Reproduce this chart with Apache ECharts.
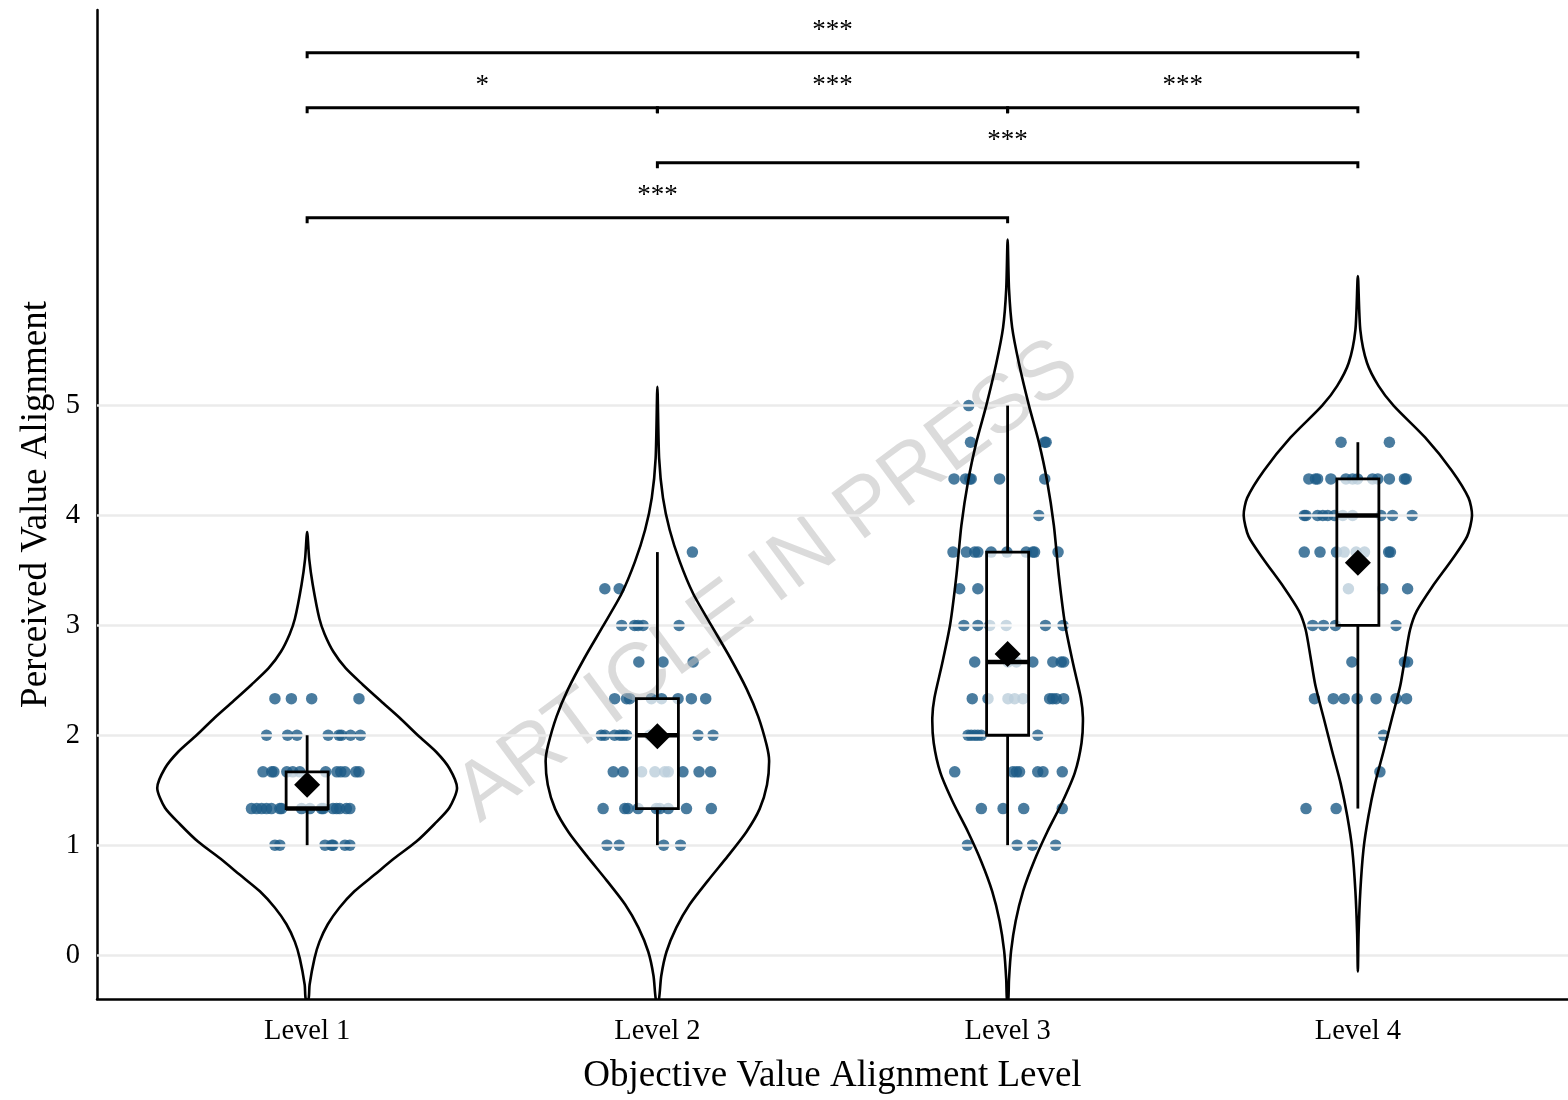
<!DOCTYPE html>
<html><head><meta charset="utf-8">
<script src="https://cdn.jsdelivr.net/npm/echarts@6/dist/echarts.min.js"></script>
<style>html,body{margin:0;padding:0;background:#fff}#c{width:1568px;height:1100px}</style>
</head><body><div id="c"></div>
<script>
// ---------- data ----------
const levels = ['Level 1', 'Level 2', 'Level 3', 'Level 4'];
const yTicks = [0, 1, 2, 3, 4, 5];
const xTicks = [1, 2, 3, 4];

// box-plot statistics per level
const boxMin = [1.0, 1.0, 1.0, 1.333];
const boxQ1  = [1.333, 1.333, 2.0, 3.0];
const boxMed = [1.333, 2.0, 2.667, 4.0];
const boxQ3  = [1.667, 2.333, 3.667, 4.333];
const boxMax = [2.0, 3.667, 5.0, 4.667];
const means  = [1.55, 1.99, 2.74, 3.57];

// violin density profiles (y value, half width in level units)
const violinY1 = [-0.4, -0.27, -0.03, 0.12, 0.28, 0.43, 0.58, 0.73, 0.88, 1.03, 1.19, 1.34, 1.52, 1.7, 1.85, 2.0, 2.16, 2.31, 2.46, 2.61, 2.76, 2.92, 3.06, 3.37, 3.6, 3.85];
const violinW1 = [0.004, 0.007, 0.021, 0.035, 0.059, 0.092, 0.135, 0.192, 0.249, 0.311, 0.363, 0.406, 0.428, 0.406, 0.368, 0.316, 0.264, 0.211, 0.159, 0.11, 0.075, 0.05, 0.035, 0.016, 0.006, 0];
const violinY2 = [-0.41, -0.19, 0.03, 0.25, 0.46, 0.68, 0.9, 1.12, 1.33, 1.55, 1.77, 1.91, 2.17, 2.42, 2.71, 3.0, 3.29, 3.58, 3.87, 4.16, 4.52, 5.17];
const violinW2 = [0.004, 0.011, 0.026, 0.054, 0.092, 0.145, 0.201, 0.254, 0.292, 0.313, 0.319, 0.312, 0.288, 0.255, 0.207, 0.154, 0.102, 0.064, 0.035, 0.016, 0.005, 0];
const violinY3 = [-0.4, -0.22, 0.04, 0.31, 0.58, 0.85, 1.12, 1.39, 1.66, 1.93, 2.16, 2.34, 2.65, 3.01, 3.46, 3.91, 4.31, 4.67, 5.0, 5.39, 5.71, 6.06, 6.51];
const violinW3 = [0.002, 0.004, 0.01, 0.023, 0.044, 0.075, 0.113, 0.156, 0.192, 0.211, 0.215, 0.209, 0.187, 0.164, 0.146, 0.132, 0.113, 0.089, 0.061, 0.032, 0.013, 0.004, 0];
const violinY4 = [-0.15, 0.19, 0.58, 0.96, 1.26, 1.56, 1.85, 2.15, 2.45, 2.71, 2.96, 3.13, 3.35, 3.6, 3.81, 4.0, 4.16, 4.41, 4.71, 5.0, 5.18, 5.39, 5.69, 6.18];
const violinW4 = [0, 0.002, 0.007, 0.016, 0.03, 0.049, 0.073, 0.097, 0.121, 0.135, 0.149, 0.168, 0.212, 0.269, 0.312, 0.326, 0.316, 0.268, 0.192, 0.102, 0.059, 0.026, 0.007, 0];

// observations: [value, horizontal jitter offsets of each point at that value]
const points1 = [
  [2.333, [-0.092, -0.045, 0.013, 0.148]],
  [2.0,   [-0.116, -0.056, -0.029, 0.06, 0.091, 0.098, 0.124, 0.152]],
  [1.667, [-0.126, -0.101, -0.095, -0.058, -0.041, -0.021, 0.053, 0.085, 0.096, 0.108, 0.139, 0.148]],
  [1.333, [-0.159, -0.144, -0.13, -0.116, -0.102, -0.078, -0.073, -0.016, 0.008, 0.041, 0.046, 0.074, 0.084, 0.093, 0.112, 0.122]],
  [1.0,   [-0.092, -0.078, 0.051, 0.07, 0.074, 0.108, 0.122]]
];
const points2 = [
  [3.667, [0.1]],
  [3.333, [-0.15, -0.109]],
  [3.0,   [-0.102, -0.065, -0.055, -0.041, 0.062]],
  [2.667, [-0.053, 0.016, 0.102]],
  [2.333, [-0.122, -0.088, -0.079, -0.017, 0.012, 0.059, 0.097, 0.138]],
  [2.0,   [-0.16, -0.15, -0.122, -0.107, -0.098, -0.088, -0.022, 0.116, 0.159]],
  [1.667, [-0.126, -0.098, -0.045, -0.007, 0.021, 0.031, 0.073, 0.119, 0.152]],
  [1.333, [-0.155, -0.093, -0.084, -0.055, -0.003, 0.007, 0.031, 0.083, 0.154]],
  [1.0,   [-0.144, -0.109, 0.018, 0.066]]
];
const points3 = [
  [5.0,   [-0.111]],
  [4.667, [-0.106, 0.106, 0.11]],
  [4.333, [-0.153, -0.12, -0.108, -0.104, -0.023, 0.106]],
  [4.0,   [0.089]],
  [3.667, [-0.156, -0.118, -0.094, -0.085, -0.047, -0.002, 0.053, 0.072, 0.077, 0.144]],
  [3.333, [-0.137, -0.085]],
  [3.0,   [-0.125, -0.085, -0.051, -0.004, 0.108, 0.158]],
  [2.667, [-0.094, 0.001, 0.025, 0.072, 0.129, 0.153, 0.16]],
  [2.333, [-0.101, -0.056, 0.001, 0.02, 0.044, 0.12, 0.129, 0.139, 0.16]],
  [2.0,   [-0.113, -0.104, -0.094, -0.085, -0.075, 0.086]],
  [1.667, [-0.151, 0.015, 0.025, 0.034, 0.086, 0.101, 0.156]],
  [1.333, [-0.075, -0.013, 0.046, 0.156]],
  [1.0,   [-0.115, 0.027, 0.071, 0.137]]
];
const points4 = [
  [4.667, [-0.048, 0.09]],
  [4.333, [-0.14, -0.121, -0.115, -0.077, -0.034, -0.015, -0.001, 0.042, 0.057, 0.09, 0.133, 0.138]],
  [4.0,   [-0.153, -0.148, -0.115, -0.1, -0.086, -0.067, -0.043, -0.015, 0.066, 0.099, 0.155]],
  [3.667, [-0.153, -0.108, -0.061, -0.039, -0.005, 0.019, 0.088, 0.093]],
  [3.333, [-0.027, 0.071, 0.142]],
  [3.0,   [-0.129, -0.098, -0.064, 0.109]],
  [2.667, [-0.017, 0.133, 0.142]],
  [2.333, [-0.124, -0.07, -0.039, -0.002, 0.052, 0.109, 0.139]],
  [2.0,   [0.073]],
  [1.667, [0.063]],
  [1.333, [-0.148, -0.062]]
];

// significance brackets
const bracketFrom  = [1, 1, 2, 3, 2, 1];
const bracketTo    = [4, 2, 3, 4, 4, 3];
const bracketY     = [8.21, 7.71, 7.71, 7.71, 7.21, 6.71];
const bracketLabel = ['***', '*', '***', '***', '***', '***'];

// ---------- chart ----------
const SERIF = 'Liberation Serif';
const BOX_HALF = 0.06;
const TICK_DROP = 0.05;
const violins = [[violinY1, violinW1], [violinY2, violinW2], [violinY3, violinW3], [violinY4, violinW4]];
const allPoints = [points1, points2, points3, points4];

const scatterData = [];
allPoints.forEach((rows, i) => rows.forEach(([v, js]) => js.forEach(j => scatterData.push([i + 1 + j, v]))));

function violinSeries(idx) {
  const [ys, ws] = violins[idx];
  return {
    type: 'custom', z: 5, silent: true, clip: true,
    data: [[idx + 1, ys[0]]],
    renderItem: (params, api) => {
      const c = idx + 1, pts = [];
      for (let i = 0; i < ys.length; i++) pts.push(api.coord([c + ws[i], ys[i]]));
      for (let i = ys.length - 1; i >= 0; i--) if (ws[i] > 0) pts.push(api.coord([c - ws[i], ys[i]]));
      return { type: 'polygon', shape: { points: pts, smooth: 0.25 },
               style: { fill: 'none', stroke: '#000', lineWidth: 2.6 } };
    }
  };
}

const series = [
  { // gridlines
    type: 'scatter', data: [], z: 1, silent: true,
    markLine: { silent: true, symbol: ['none', 'none'], label: { show: false },
      lineStyle: { color: '#ebebeb', width: 2.5, type: 'solid' },
      data: yTicks.map(v => ({ yAxis: v })) }
  },
  { // jittered observations
    type: 'scatter', z: 3, data: scatterData, symbolSize: 11.5,
    itemStyle: { color: '#1d5b87', opacity: 0.8 }
  },
  violinSeries(0), violinSeries(1), violinSeries(2), violinSeries(3),
  { // boxes
    type: 'custom', z: 6, silent: true,
    data: levels.map((l, i) => [i + 1, boxMin[i], boxQ1[i], boxMed[i], boxQ3[i], boxMax[i]]),
    renderItem: (params, api) => {
      const x = api.value(0);
      const mn = api.coord([x, api.value(1)]), q1 = api.coord([x - BOX_HALF, api.value(2)]);
      const q3 = api.coord([x + BOX_HALF, api.value(4)]), mx = api.coord([x, api.value(5)]);
      const md = api.value(3);
      const mL = api.coord([x - BOX_HALF, md]), mR = api.coord([x + BOX_HALF, md]);
      const ls = { stroke: '#000', lineWidth: 2.8 };
      return { type: 'group', children: [
        { type: 'line', shape: { x1: mn[0], y1: mn[1], x2: mn[0], y2: q1[1] }, style: ls },
        { type: 'line', shape: { x1: mx[0], y1: mx[1], x2: mx[0], y2: q3[1] }, style: ls },
        { type: 'rect', shape: { x: q1[0], y: q3[1], width: q3[0] - q1[0], height: q1[1] - q3[1] },
          style: { fill: 'rgba(255,255,255,0.7)', stroke: '#000', lineWidth: 2.8 } },
        { type: 'line', shape: { x1: mL[0], y1: mL[1], x2: mR[0], y2: mR[1] }, style: { stroke: '#000', lineWidth: 4.5 } }
      ] };
    }
  },
  { // means
    type: 'scatter', z: 7, symbol: 'diamond', symbolSize: [26, 26],
    data: means.map((m, i) => [i + 1, m]), itemStyle: { color: '#000', opacity: 1 }
  },
  { // significance brackets
    type: 'custom', z: 7, silent: true, clip: false,
    data: bracketFrom.map((f, i) => [f, bracketY[i], bracketTo[i]]),
    renderItem: (params, api) => {
      const i = params.dataIndex;
      const f = api.value(0), y = api.value(1), t = api.value(2);
      const a = api.coord([f, y - TICK_DROP]), b = api.coord([f, y]), c = api.coord([t, y]), d = api.coord([t, y - TICK_DROP]);
      const lab = api.coord([(f + t) / 2, y + 0.2]);
      return { type: 'group', children: [
        { type: 'polyline', shape: { points: [a, b, c, d] }, style: { fill: 'none', stroke: '#000', lineWidth: 3 } },
        { type: 'text', style: { text: bracketLabel[i], x: lab[0], y: lab[1], align: 'center', verticalAlign: 'middle',
          fontFamily: SERIF, fontSize: 27, fill: '#000' } }
      ] };
    }
  }
];

const chart = echarts.init(document.getElementById('c'), null, { renderer: 'canvas' });
chart.setOption({
  animation: false,
  backgroundColor: '#fff',
  grid: { left: 97, right: 0, top: 10, bottom: 99 },
  xAxis: {
    type: 'value', min: 0.4, max: 4.6,
    name: 'Objective Value Alignment Level', nameLocation: 'middle', nameGap: 59,
    nameTextStyle: { fontFamily: SERIF, fontSize: 37, color: '#000' },
    axisLine: { onZero: false, lineStyle: { color: '#000', width: 2.5 } },
    axisTick: { show: false }, splitLine: { show: false },
    axisLabel: { customValues: xTicks, formatter: v => levels[Math.round(v) - 1], margin: 18,
      fontFamily: SERIF, fontSize: 28.5, color: '#000' }
  },
  yAxis: {
    type: 'value', min: -0.4, max: 8.6,
    name: 'Perceived Value Alignment', nameLocation: 'middle', nameGap: 41, nameRotate: 90,
    nameTextStyle: { fontFamily: SERIF, fontSize: 37, color: '#000' },
    axisLine: { show: true, onZero: false, lineStyle: { color: '#000', width: 2.5 } },
    axisTick: { show: false }, splitLine: { show: false },
    axisLabel: { customValues: yTicks, formatter: v => String(Math.round(v)), margin: 17,
      fontFamily: SERIF, fontSize: 28.5, color: '#000' }
  },
  graphic: [{
    type: 'text', z: 4, silent: true, x: 768, y: 582, rotation: 36.5 * Math.PI / 180,
    style: { text: 'ARTICLE IN PRESS', align: 'center', verticalAlign: 'middle',
      fontFamily: 'Liberation Sans', fontSize: 82, fill: 'rgba(190,190,190,0.55)' }
  }],
  series: series
});
</script>
</body></html>
